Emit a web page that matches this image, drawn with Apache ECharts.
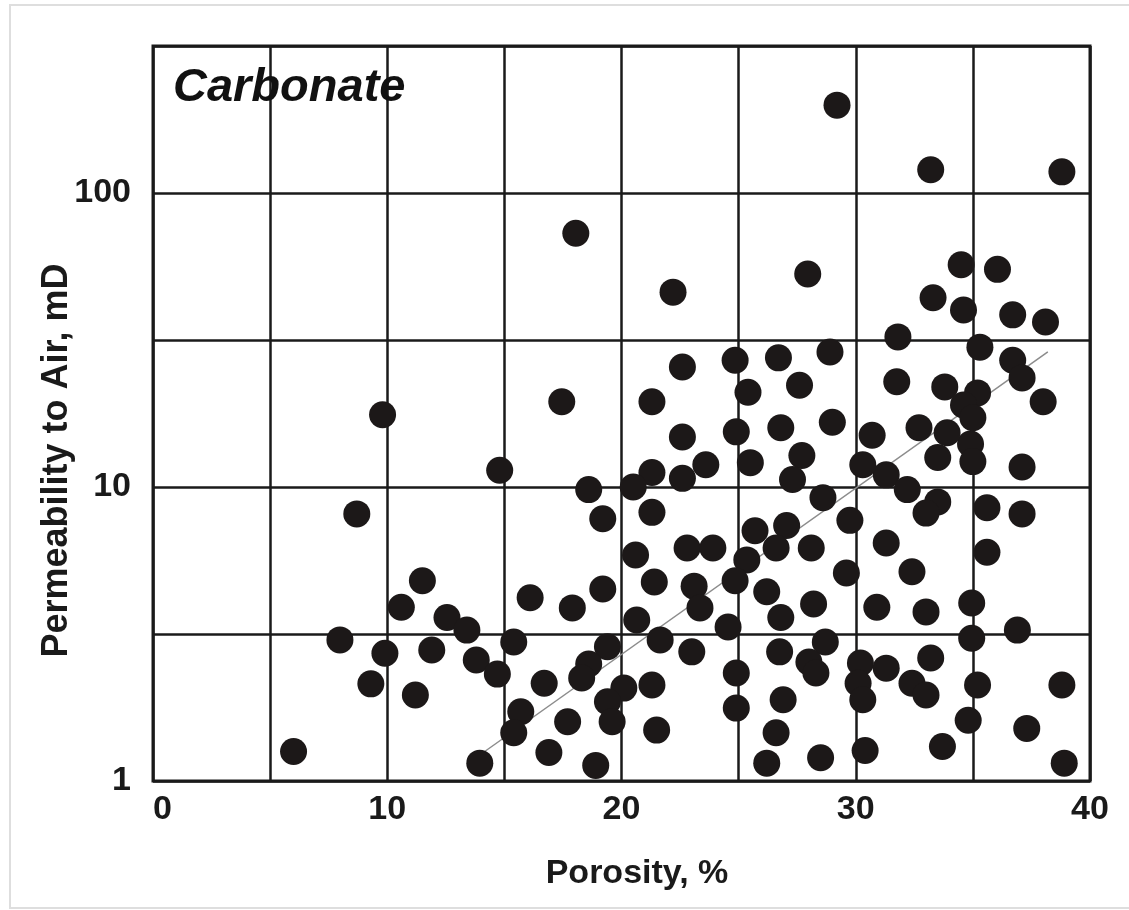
<!DOCTYPE html>
<html>
<head>
<meta charset="utf-8">
<script src="https://cdn.jsdelivr.net/npm/echarts@6/dist/echarts.min.js"></script>
<style>
html,body{margin:0;padding:0;background:#fff;}
#chart{width:1129px;height:910px;}
</style>
</head>
<body>
<div id="chart"></div>
<script>
// Porosity (%) of each sample
const porosity = [
  29.2, 33.2, 38.8, 18.05, 22.2, 27.95, 34.5, 36.05, 33.3, 34.6,
  36.7, 38.1, 31.8, 35.3, 36.7, 37.1, 38.0, 31.75, 33.8, 35.2,
  34.6, 35.0, 34.9, 35.0, 32.7, 33.9, 33.5, 37.1, 31.3, 32.2,
  22.6, 24.85, 26.7, 28.9, 21.3, 17.45, 25.4, 27.6, 22.6, 24.9,
  26.8, 29.0, 25.5, 27.7, 27.3, 23.6, 21.3, 22.6, 30.3, 30.7,
  9.8, 14.8, 20.5, 18.6, 8.7, 19.2, 21.3, 28.6, 29.75, 31.3,
  25.7, 27.05, 22.8, 23.9, 26.6, 28.1, 25.35, 20.6, 29.6, 33.5,
  33.0, 35.6, 37.1, 35.6, 32.4, 24.85, 21.4, 23.1, 23.35, 26.2,
  26.8, 24.55, 20.65, 19.2, 16.1, 17.9, 11.5, 10.6, 12.55, 13.4,
  28.2, 30.9, 33.0, 34.95, 36.9, 34.95, 7.98, 9.9, 11.9, 15.4,
  9.3, 11.2, 13.8, 14.7, 15.7, 15.4, 13.95, 6.0, 19.4, 18.6,
  18.3, 16.7, 21.65, 23.0, 24.9, 24.9, 21.3, 20.1, 19.4, 19.6,
  17.7, 16.9, 18.9, 21.5, 26.75, 26.9, 26.6, 26.2, 28.7, 28.0,
  28.3, 30.2, 30.1, 30.3, 31.3, 33.2, 32.4, 33.0, 35.2, 34.8,
  37.3, 38.8, 38.9, 33.7, 30.4, 28.5
];
// Permeability to air (mD) of each sample
const permeability = [
  199, 120, 118, 73, 46, 53, 57, 55, 44, 40,
  38.5, 36.4, 32.4, 29.9, 27, 23.5, 19.5, 22.8, 21.9, 20.9,
  19.0, 17.2, 14.0, 12.2, 15.9, 15.3, 12.6, 11.7, 11.0, 9.8,
  25.6, 27, 27.5, 28.8, 19.5, 19.5, 21, 22.2, 14.8, 15.4,
  15.9, 16.6, 12.1, 12.8, 10.6, 11.9, 11.2, 10.7, 11.9, 15.0,
  17.6, 11.4, 10.0, 9.8, 8.1, 7.8, 8.2, 9.2, 7.7, 6.45,
  7.1, 7.4, 6.2, 6.2, 6.2, 6.2, 5.65, 5.87, 5.1, 8.9,
  8.15, 8.5, 8.1, 6.0, 5.15, 4.8, 4.75, 4.6, 3.88, 4.4,
  3.6, 3.34, 3.53, 4.5, 4.2, 3.88, 4.8, 3.9, 3.6, 3.26,
  4.0, 3.9, 3.76, 4.03, 3.26, 3.06, 3.02, 2.72, 2.79, 2.97,
  2.14, 1.96, 2.58, 2.31, 1.72, 1.46, 1.15, 1.26, 2.86, 2.5,
  2.24, 2.15, 3.02, 2.75, 2.33, 1.77, 2.12, 2.07, 1.86, 1.59,
  1.59, 1.25, 1.13, 1.49, 2.75, 1.89, 1.46, 1.15, 2.97, 2.54,
  2.33, 2.52, 2.15, 1.89, 2.42, 2.62, 2.15, 1.96, 2.12, 1.61,
  1.51, 2.12, 1.15, 1.31, 1.27, 1.2
];
// Trend line end points (porosity %, permeability mD)
const trendPorosity = [14.1, 38.2];
const trendPermeability = [1.25, 28.8];
// Tick labels shown
const xTickLabels = [0, 10, 20, 30, 40];
const yTickLabels = [1, 10, 100];

const chart = echarts.init(document.getElementById('chart'), null, {renderer: 'canvas'});
const font = '"Liberation Sans", Arial, sans-serif';
const ink = '#1c1818';

const points = porosity.map((p, i) => [p, permeability[i]]);
const trend = trendPorosity.map((p, i) => [p, trendPermeability[i]]);

chart.setOption({
  backgroundColor: '#ffffff',
  animation: false,
  title: {
    text: 'Carbonate',
    left: 168,
    top: 60,
    textStyle: {fontFamily: font, fontSize: 47, fontWeight: 'bold', fontStyle: 'italic', color: '#111'}
  },
  graphic: [{
    type: 'rect',
    shape: {x: 10, y: 5, width: 1130, height: 903},
    style: {fill: 'none', stroke: '#dedede', lineWidth: 2},
    silent: true,
    z: -10
  }],
  grid: {
    left: 153, right: 39, top: 46, bottom: 129,
    show: true, borderColor: '#1a1a1a', borderWidth: 3, backgroundColor: 'transparent'
  },
  xAxis: {
    type: 'value', min: 0, max: 40, interval: 5,
    name: 'Porosity, %', nameLocation: 'middle', nameGap: 76, nameMoveOverlap: false,
    nameTextStyle: {fontFamily: font, fontSize: 34, fontWeight: 'bold', color: '#1a1a1a', padding: [0, 0, 0, 31]},
    axisLine: {show: false}, axisTick: {show: false},
    axisLabel: {
      fontFamily: font, fontSize: 34, fontWeight: 'bold', color: '#1a1a1a', margin: 12,
      alignMinLabel: 'left',
      formatter: v => xTickLabels.indexOf(Math.round(v)) >= 0 && Math.abs(v - Math.round(v)) < 1e-6 ? String(Math.round(v)) : ''
    },
    splitLine: {show: true, lineStyle: {color: '#1a1a1a', width: 2.5}}
  },
  yAxis: {
    type: 'log', logBase: Math.sqrt(10), min: 1, max: Math.pow(10, 2.5), splitNumber: 5,
    name: 'Permeability to Air, mD', nameLocation: 'middle', nameGap: 78, nameRotate: 90, nameMoveOverlap: false,
    nameTextStyle: {fontFamily: font, fontSize: 36, fontWeight: 'bold', color: '#1a1a1a', padding: [0, 94, 0, 0]},
    axisLine: {show: false}, axisTick: {show: false},
    axisLabel: {
      fontFamily: font, fontSize: 34, fontWeight: 'bold', color: '#1a1a1a', margin: 22,
      formatter: v => {
        const l = Math.log10(v);
        const r = Math.round(l);
        if (Math.abs(l - r) < 1e-6 && yTickLabels.indexOf(Math.pow(10, r)) >= 0) return String(Math.pow(10, r));
        return '';
      }
    },
    splitLine: {show: true, lineStyle: {color: '#1a1a1a', width: 2.5}}
  },
  series: [
    {
      type: 'line', data: trend, symbol: 'none', z: 1,
      lineStyle: {color: '#8c8c8c', width: 1.5}
    },
    {
      type: 'scatter', data: points, symbol: 'circle', symbolSize: 27, z: 2,
      itemStyle: {color: ink, opacity: 1}
    }
  ]
});
</script>
</body>
</html>
